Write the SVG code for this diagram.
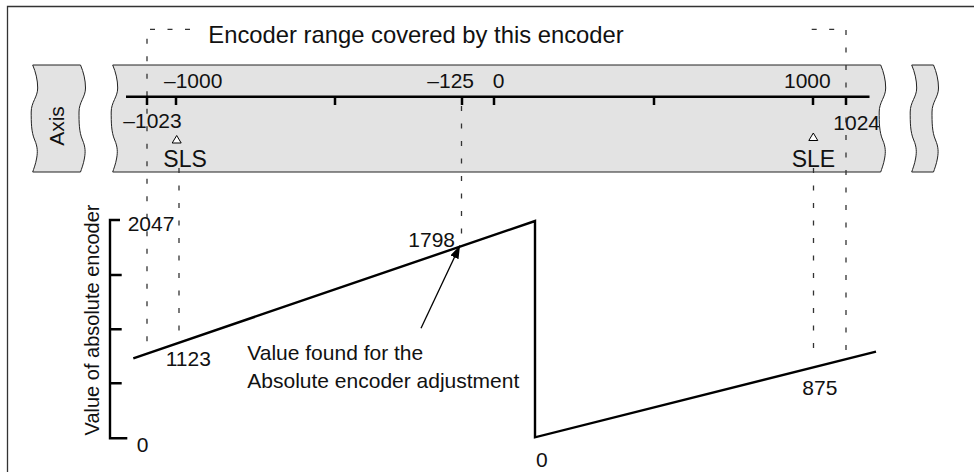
<svg xmlns="http://www.w3.org/2000/svg" width="974" height="472" viewBox="0 0 974 472">
<style>
text{font-family:"Liberation Sans",Arial,sans-serif;fill:#111;}
.lbl{font-size:21px;}
.big{font-size:23px;}
.title{font-size:23.8px;}
.piece{fill:#e3e3e3;stroke:#222;stroke-width:1;}
.dash{fill:none;stroke:#333;stroke-width:1.3;stroke-dasharray:5 12.5;}
.thick{fill:none;stroke:#000;stroke-width:2.4;}
.tri{fill:#fff;stroke:#000;stroke-width:1;}
</style>
<defs>
<marker id="ah" markerUnits="userSpaceOnUse" markerWidth="14" markerHeight="10" refX="13" refY="4.5" orient="auto">
<path d="M0,0 L13,4.5 L0,9 Z" fill="#000"/>
</marker>
</defs>
<rect width="974" height="472" fill="#fff"/>
<path d="M7.5,472 V6.5 H974" fill="none" stroke="#333" stroke-width="1.3"/>

<g id="axis-box">
<path class="piece" d="M32.7,65 H80.5 C83.5,72 85.5,80 85.5,88 C85.5,97 79,102 79,112 C79,122 79,132 82.5,140 C85.5,147 85.5,152 84.5,158 C83.5,164 81.5,169 80.5,172 H32.7 C33.7,169 35.7,164 36.7,158 C37.7,152 37.7,147 34.7,140 C31.2,132 31.2,122 31.2,112 C31.2,102 37.7,97 37.7,88 C37.7,80 35.7,72 32.7,65 Z"/>
<text class="lbl" text-anchor="middle" transform="translate(63.5,126) rotate(-90)">Axis</text>
</g>

<g id="band">
<path class="piece" d="M112.7,65 H880.7 C883.7,72 885.7,80 885.7,88 C885.7,97 879.2,102 879.2,112 C879.2,122 879.2,132 882.7,140 C885.7,147 885.7,152 884.7,158 C883.7,164 881.7,169 880.7,172 H112.7 C113.7,169 115.7,164 116.7,158 C117.7,152 117.7,147 114.7,140 C111.2,132 111.2,122 111.2,112 C111.2,102 117.7,97 117.7,88 C117.7,80 115.7,72 112.7,65 Z"/>
</g>

<g id="right-box">
<path class="piece" d="M911.7,65 H933.5 C936.5,72 938.5,80 938.5,88 C938.5,97 932,102 932,112 C932,122 932,132 935.5,140 C938.5,147 938.5,152 937.5,158 C936.5,164 934.5,169 933.5,172 H911.7 C912.7,169 914.7,164 915.7,158 C916.7,152 916.7,147 913.7,140 C910.2,132 910.2,122 910.2,112 C910.2,102 916.7,97 916.7,88 C916.7,80 914.7,72 911.7,65 Z"/>
</g>

<g id="connectors">
<path class="dash" d="M190,29.3 H147 V350"/>
<path class="dash" d="M811.7,29.3 H846 V356"/>
<path class="dash" d="M179,168 V340"/>
<path class="dash" d="M461.5,106 V244"/>
<path class="dash" d="M813.5,168 V355"/>
<line x1="421" y1="328.3" x2="460" y2="245.5" stroke="#000" stroke-width="1.3" marker-end="url(#ah)"/>
</g>

<g id="scale">
<path d="M126,96.7 H869.5" stroke="#000" stroke-width="2.5"/>
<path d="M147,96.7 V105 M176,96.7 V105 M335,96.7 V105 M462,96.7 V105 M494,96.7 V105 M654,96.7 V105 M813,96.7 V105 M846,96.7 V105" stroke="#000" stroke-width="2.5"/>
<text class="lbl" x="164" y="88.3">–1000</text>
<text class="lbl" x="427.3" y="88.3">–125</text>
<text class="lbl" x="492.7" y="88.3">0</text>
<text class="lbl" x="784" y="88.3">1000</text>
<text class="lbl" x="123.3" y="128.3">–1023</text>
<text class="lbl" x="833.3" y="130">1024</text>
</g>

<g id="sls">
<polygon class="tri" points="176.7,135.5 172.2,143 181.2,143"/>
<text class="big" x="163.3" y="167.3">SLS</text>
</g>
<g id="sle">
<polygon class="tri" points="813.3,133 808.8,140.5 817.8,140.5"/>
<text class="big" x="791.7" y="166.7">SLE</text>
</g>

<g id="title">
<text class="title" x="208.3" y="43.3">Encoder range covered by this encoder</text>
</g>

<g id="y-axis">
<path class="thick" d="M120,220 H110 V438.3 H127.3 M110,275 H121.7 M110,329.3 H121.7 M110,383.3 H121.7"/>
<text style="font-size:20px" text-anchor="middle" transform="translate(99,320) rotate(-90)">Value of absolute encoder</text>
<text class="lbl" x="127.7" y="230.7">2047</text>
<text class="lbl" x="136.7" y="451.7">0</text>
</g>

<g id="sawtooth">
<path class="thick" d="M133.3,358.3 L535,221 L535,437.3 L876,351.7" stroke-linejoin="miter"/>
<text class="lbl" x="165.7" y="365.7">1123</text>
<text class="lbl" x="408.3" y="246.7">1798</text>
<text class="lbl" x="536" y="466.7">0</text>
<text class="lbl" x="802.3" y="395">875</text>
</g>

<g id="note">
<text class="lbl" x="247.3" y="360">Value found for the</text>
<text class="lbl" x="247.3" y="388.3">Absolute encoder adjustment</text>
</g>
</svg>
